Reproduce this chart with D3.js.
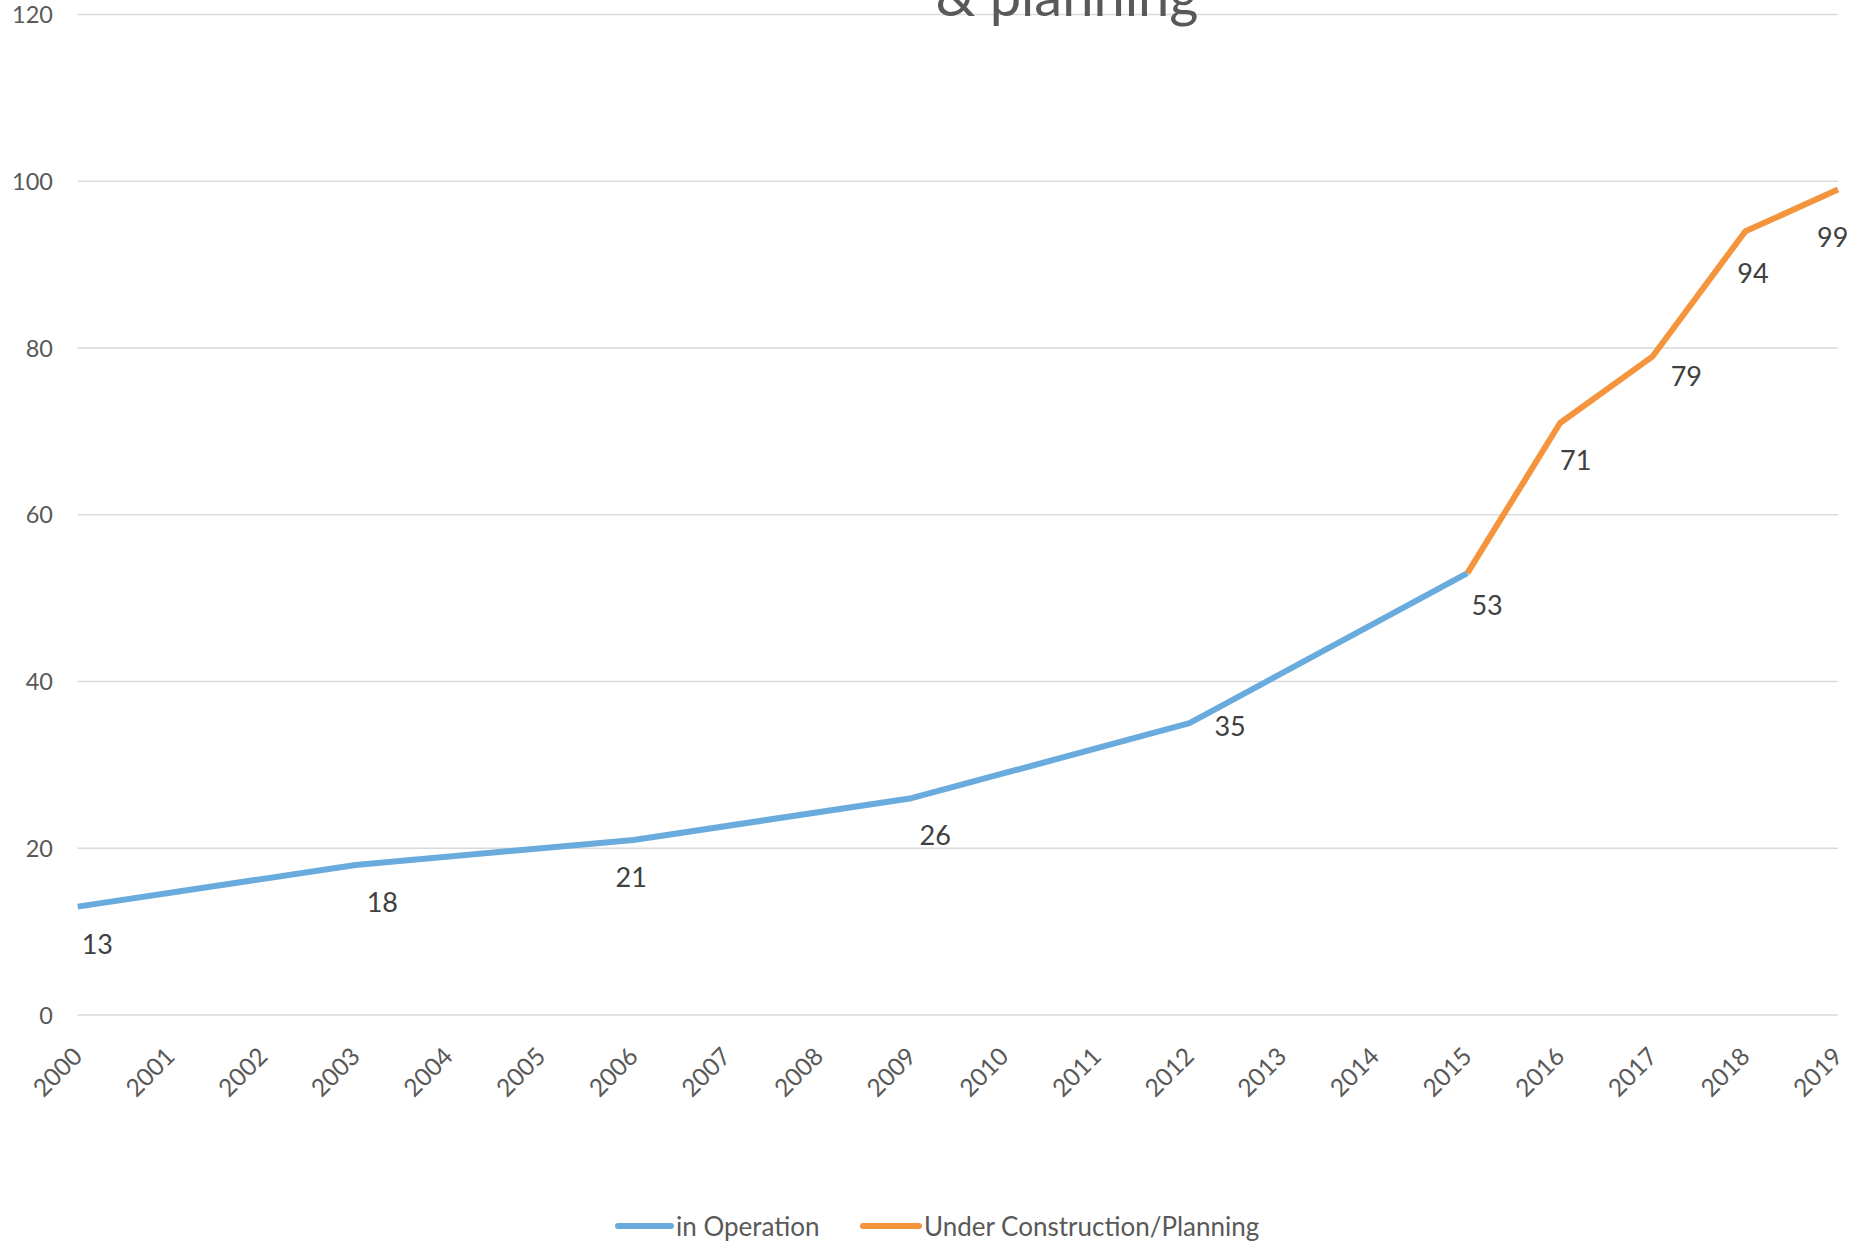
<!DOCTYPE html>
<html>
<head>
<meta charset="utf-8">
<script src="https://cdn.jsdelivr.net/npm/d3@7"></script>
<style>
  html, body { margin: 0; padding: 0; background: #fff; }
  svg { display: block; font-family: Lato, "Open Sans", sans-serif; }
</style>
</head>
<body>
<div id="chart"></div>
<script>
// category axis
const years = [2000, 2001, 2002, 2003, 2004, 2005, 2006, 2007, 2008, 2009,
  2010, 2011, 2012, 2013, 2014, 2015, 2016, 2017, 2018, 2019];
const yTicks = [0, 20, 40, 60, 80, 100, 120];

// series (only the years that carry a value)
const operationYears = [2000, 2003, 2006, 2009, 2012, 2015];
const operationValues = [13, 18, 21, 26, 35, 53];
const plannedYears = [2015, 2016, 2017, 2018, 2019];
const plannedValues = [53, 71, 79, 94, 99];

const seriesNames = ["in Operation", "Under Construction/Planning"];
const colors = ["#6aabde", "#f4953d"];

// hand placed data labels in the original (px nudges from the point)
const labelNudge = {
  2000: [4, 47], 2003: [11, 47], 2006: [-18, 47], 2009: [8, 47], 2012: [25, 13],
  2015: [4, 42], 2016: [0, 47], 2017: [18, 30], 2018: [-8, 52], 2019: [-21, 57]
};

const width = 1859, height = 1242;
const plot = { left: 77.7, right: 1838, top: 14.5, bottom: 1015 };

const svg = d3.select("#chart").append("svg")
  .attr("width", width).attr("height", height);

svg.append("rect").attr("width", width).attr("height", height).attr("fill", "#fff");

const x = d3.scalePoint().domain(years).range([plot.left, plot.right]);
const y = d3.scaleLinear().domain([0, 120]).range([plot.bottom, plot.top]);

// gridlines
svg.append("g")
  .selectAll("line")
  .data(yTicks)
  .join("line")
  .attr("x1", plot.left).attr("x2", plot.right)
  .attr("y1", d => y(d)).attr("y2", d => y(d))
  .attr("stroke", "#d9d9d9").attr("stroke-width", 1.6);

// title (only the last line falls inside the canvas, as in the original)
svg.append("text")
  .attr("x", 1067).attr("y", 16)
  .attr("text-anchor", "middle")
  .attr("font-size", 56)
  .attr("fill", "#595959")
  .text("& planning");

// y axis labels
const yAxis = d3.axisLeft(y).tickValues(yTicks).tickSize(0).tickPadding(0);
const gy = svg.append("g").attr("transform", "translate(53,0)").call(yAxis);
gy.select(".domain").remove();
gy.selectAll("text")
  .attr("font-family", "Lato, sans-serif")
  .attr("font-size", 23.5)
  .attr("fill", "#595959")
  .attr("dy", "0.35em");

// x axis labels, rotated
const xAxis = d3.axisBottom(x).tickSize(0).tickPadding(0);
const gx = svg.append("g").call(xAxis);
gx.select(".domain").remove();
gx.selectAll(".tick").attr("transform", d => `translate(${x(d) + 6},1058)`);
gx.selectAll("text")
  .attr("y", 0).attr("dy", 0)
  .attr("font-family", "Lato, sans-serif")
  .attr("font-size", 24.5)
  .attr("fill", "#595959")
  .attr("text-anchor", "end")
  .attr("transform", "rotate(-45)");

const line = d3.line()
  .x(d => x(d.year))
  .y(d => y(d.value));

const operation = operationYears.map((yr, i) => ({ year: yr, value: operationValues[i] }));
const planned = plannedYears.map((yr, i) => ({ year: yr, value: plannedValues[i] }));

[operation, planned].forEach((data, i) => {
  svg.append("path")
    .datum(data)
    .attr("d", line)
    .attr("fill", "none")
    .attr("stroke", colors[i])
    .attr("stroke-width", 6)
    .attr("stroke-linejoin", "round");
});

// data labels
const labelled = operation.concat(planned.slice(1));
svg.append("g")
  .selectAll("text")
  .data(labelled)
  .join("text")
  .attr("x", d => x(d.year) + labelNudge[d.year][0])
  .attr("y", d => y(d.value) + labelNudge[d.year][1])
  .attr("font-size", 27)
  .attr("fill", "#404040")
  .text(d => d.value);

// legend
const legendItems = [
  { name: seriesNames[0], color: colors[0], x0: 618, x1: 671, tx: 676 },
  { name: seriesNames[1], color: colors[1], x0: 863, x1: 919, tx: 924 }
];
const lg = svg.append("g");
legendItems.forEach(item => {
  lg.append("line")
    .attr("x1", item.x0).attr("x2", item.x1)
    .attr("y1", 1226).attr("y2", 1226)
    .attr("stroke", item.color).attr("stroke-width", 6)
    .attr("stroke-linecap", "round");
  lg.append("text")
    .attr("x", item.tx).attr("y", 1227)
    .attr("dy", "0.35em")
    .attr("font-size", 26)
    .attr("fill", "#595959")
    .text(item.name);
});
</script>
</body>
</html>
